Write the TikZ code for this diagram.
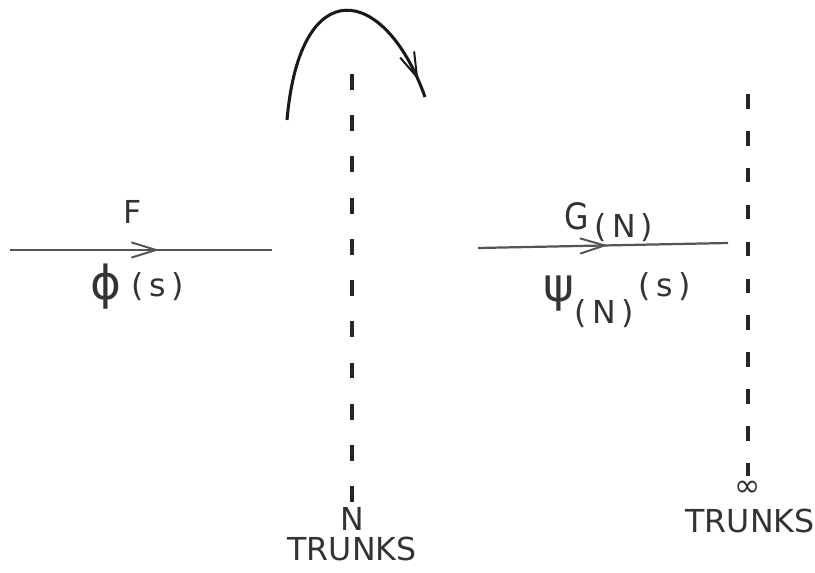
\documentclass[tikz,border=0pt]{standalone}
\usepackage{fontspec}
\setmainfont{DejaVu Sans}
\usetikzlibrary{arrows.meta,decorations.markings}

\definecolor{inkgray}{HTML}{333333}
\definecolor{flowgray}{HTML}{555555}

\newcommand{\biggreek}[1]{{\fontsize{40}{44}\selectfont #1}}

\tikzset{
  label text/.style={text=inkgray, inner sep=0pt, font=\fontsize{27}{32}\selectfont},
  flow/.style={draw=flowgray, line width=1.9pt},
  mid arrow/.style={postaction={decorate}, decoration={markings,
      mark=at position #1 with {\arrow{Straight Barb[length=21pt,width=13pt,line width=1.7pt]}}}},
  trunk line/.style={draw=black!85, line width=3pt}
}

\begin{document}
\begin{tikzpicture}[x=0.03cm, y=-0.03cm]
    \useasboundingbox (0,0) rectangle (815,573);

    % Puntos de las lineas
    \coordinate (fin)  at (10,250);
    \coordinate (fout) at (272,250);
    \coordinate (gin)  at (478,248);
    \coordinate (gout) at (728,243);
    \coordinate (ntop) at (352,74);
    \coordinate (nbot) at (352,502);
    \coordinate (itop) at (748,94);
    \coordinate (ibot) at (748,476);
    \coordinate (arcstart) at (287,120);
    \coordinate (arcend)   at (425,97);

    % Flujo de entrada
    \draw[flow, mid arrow=0.57] (fin) -- (fout);
    \node[label text] (flbl) at (133,212) {F};
    \node[label text] (philbl) at (137,287) {\raisebox{-0.2ex}{\biggreek{ϕ}}\,\,(\,s\,)};

    % Grupo de N troncales
    \draw[trunk line, dash pattern=on 13.5pt off 21.7pt] (ntop) -- (nbot);
    \node[label text] (nlbl) at (352,519) {N};
    \node[label text] (ntrunks) at (352,549) {TRUNKS};

    % Desbordamiento
    \draw[draw=black!90, line width=2.6pt, mid arrow=0.93]
        (arcstart) .. controls (300,-30) and (385,-15) .. (arcend);

    % Flujo de desbordamiento
    \draw[flow, mid arrow=0.52] (gin) -- (gout);
    \node[label text] (glbl) at (609,222) {\scalebox{1}[1.15]{G}\,\raisebox{-0.5ex}{(\,N\,)}};
    \node[label text] (psilbl) at (617,300) {\biggreek{ψ}\raisebox{-1.3ex}{(\,N\,)}\,\raisebox{0.3ex}{(\,s\,)}};

    % Grupo infinito
    \draw[trunk line, dash pattern=on 12.5pt off 19pt] (itop) -- (ibot);
    \node[label text] (inflbl) at (748,489) {∞};
    \node[label text] (itrunks) at (750,521) {TRUNKS};
\end{tikzpicture}
\end{document}
